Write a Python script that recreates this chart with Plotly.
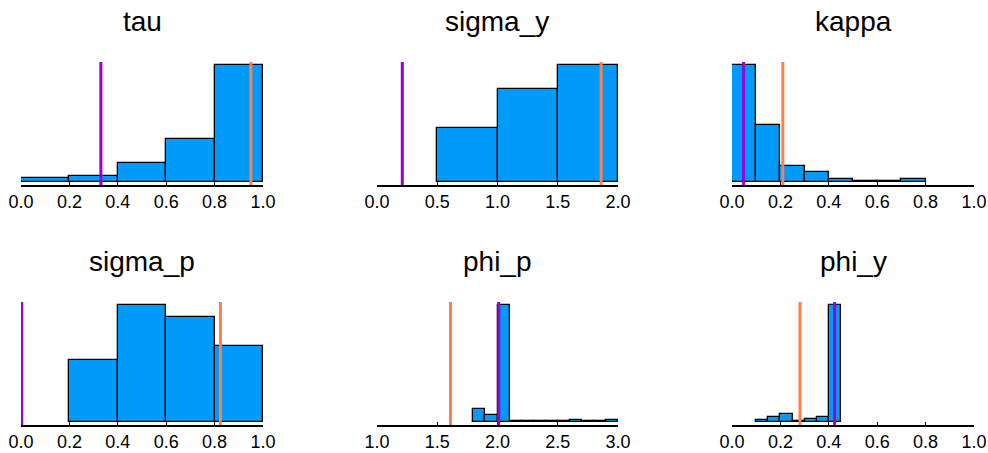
import plotly.graph_objects as go

# Panel titles, in reading order
titles = ["tau", "sigma_y", "kappa", "sigma_p", "phi_p", "phi_y"]

# Histogram bin edges (left edges) and bin widths per parameter
bin_starts = [
    [0.0, 0.2, 0.4, 0.6, 0.8],
    [0.5, 1.0, 1.5],
    [0.0, 0.1, 0.2, 0.3, 0.4, 0.5, 0.6, 0.7],
    [0.2, 0.4, 0.6, 0.8],
    [1.8, 1.9, 2.0, 2.1, 2.2, 2.3, 2.4, 2.5, 2.6, 2.7, 2.8, 2.9],
    [0.10, 0.15, 0.20, 0.25, 0.30, 0.35, 0.40],
]
bin_widths = [0.2, 0.5, 0.1, 0.2, 0.1, 0.05]

# Sample counts per bin
counts = [
    [18, 29, 99, 231, 624],
    [204, 354, 442],
    [570, 278, 78, 47, 10, 3, 3, 10],
    [172, 324, 293, 212],
    [90, 47, 827, 2, 2, 2, 2, 2, 9, 2, 2, 9],
    [9, 31, 58, 5, 19, 31, 845],
]

# Reference values drawn as vertical lines
purple_vals = [0.33, 0.21, 0.048, 0.003, 2.01, 0.424]
orange_vals = [0.95, 1.86, 0.21, 0.824, 1.61, 0.281]

# Axis ranges and tick values
x_ranges = [[0, 1], [0, 2], [0, 1], [0, 1], [1, 3], [0, 1]]
x_ticks = [
    [0.0, 0.2, 0.4, 0.6, 0.8, 1.0],
    [0.0, 0.5, 1.0, 1.5, 2.0],
    [0.0, 0.2, 0.4, 0.6, 0.8, 1.0],
    [0.0, 0.2, 0.4, 0.6, 0.8, 1.0],
    [1.0, 1.5, 2.0, 2.5, 3.0],
    [0.0, 0.2, 0.4, 0.6, 0.8, 1.0],
]

W, H = 988, 453
BAR_COLOR = "#009AFA"
PURPLE = "#9B00D8"
ORANGE = "#FF7F50"
FONT = "Liberation Sans, Arial, sans-serif"

col_px = [(21, 263), (377, 618), (732, 974)]
row_px = [(62, 185), (302, 425)]

fig = go.Figure()
layout = dict(
    width=W, height=H,
    margin=dict(l=0, r=0, t=0, b=0),
    paper_bgcolor="white", plot_bgcolor="white",
    showlegend=False,
    shapes=[], annotations=[],
)

for i in range(6):
    r, c = divmod(i, 3)
    n = i + 1
    xa = "xaxis" if n == 1 else f"xaxis{n}"
    ya = "yaxis" if n == 1 else f"yaxis{n}"
    xref = "x" if n == 1 else f"x{n}"
    yref = "y" if n == 1 else f"y{n}"

    x0, x1 = col_px[c]
    y0, y1 = row_px[r]
    xdom = [x0 / W, x1 / W]
    ydom = [1 - y1 / H, 1 - y0 / H]

    w = bin_widths[i]
    centers = [s + w / 2 for s in bin_starts[i]]
    m = max(counts[i])
    pad = 0.03 * m

    fig.add_trace(go.Bar(
        x=centers, y=counts[i], width=[w] * len(centers),
        marker=dict(color=BAR_COLOR, line=dict(color="black", width=1.3)),
        xaxis=xref, yaxis=yref, hoverinfo="skip",
    ))

    layout[xa] = dict(
        domain=xdom, range=x_ranges[i], anchor=yref, automargin=False,
        tickvals=x_ticks[i], ticktext=[f"{v:.1f}" for v in x_ticks[i]],
        ticks="inside", ticklen=3, tickwidth=1, tickcolor="black",
        showline=True, linecolor="black", linewidth=1.5,
        showgrid=False, zeroline=False,
        tickfont=dict(family=FONT, size=18, color="black"),
    )
    layout[ya] = dict(
        domain=ydom, range=[-pad, m + pad], anchor=xref, automargin=False,
        visible=False, showgrid=False, zeroline=False,
    )

    for val, col in ((purple_vals[i], PURPLE), (orange_vals[i], ORANGE)):
        layout["shapes"].append(dict(
            type="line", xref=xref, yref=f"{yref} domain",
            x0=val, x1=val, y0=0, y1=1,
            line=dict(color=col, width=3), layer="above",
        ))

    layout["annotations"].append(dict(
        text=titles[i], xref="paper", yref="paper",
        x=(xdom[0] + xdom[1]) / 2, y=ydom[1] + 41 / H,
        xanchor="center", yanchor="middle", showarrow=False,
        font=dict(family=FONT, size=28, color="black"),
    ))

fig.update_layout(**layout)
fig.update_layout(bargap=0)
fig.write_html("out.html")
